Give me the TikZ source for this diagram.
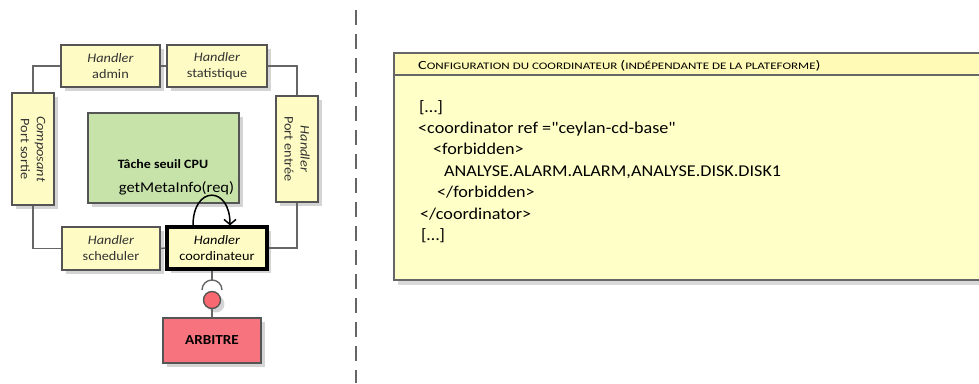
\documentclass[tikz,border=0pt]{standalone}
\usepackage{fontspec}
\setmainfont[FakeStretch=1.1]{Carlito}
\newfontfamily\codefont[FakeStretch=1.1]{Carlito}
\newfontfamily\headfont[FakeStretch=1.3]{Carlito}
\usetikzlibrary{shadows,arrows.meta}
\definecolor{boxyellow}{HTML}{FEFCC4}
\definecolor{noteyellow}{HTML}{FFFFC8}
\definecolor{headyellow}{HTML}{FFFBB6}
\definecolor{taskgreen}{HTML}{C8E3AA}
\definecolor{arbred}{HTML}{F7747E}
\definecolor{bordergray}{HTML}{555555}
\definecolor{linegray}{HTML}{666666}
\definecolor{textgray}{HTML}{333333}
\tikzset{
  shadowed/.style={drop shadow={shadow xshift=4pt, shadow yshift=-4pt, fill=black!17, opacity=1}},
  hbox/.style={draw=bordergray, line width=1.4pt, fill=boxyellow, inner sep=0pt, align=center,
    font=\fontsize{13}{16}\selectfont, text=textgray, shadowed},
  vlabel/.style={rotate=-90, align=center, font=\fontsize{13}{16}\selectfont, text=textgray, inner sep=0pt},
  ring/.style={draw=linegray, line width=1.4pt},
  codeline/.style={anchor=base west, inner sep=0pt, font=\codefont\fontsize{16.5}{20}\selectfont, text=black},
}
\begin{document}
\begin{tikzpicture}[x=1pt,y=-1pt]
\useasboundingbox (0,0) rectangle (979,383);

\node[hbox, minimum width=99pt, minimum height=42pt] (admin) at (110.5,66) {\textit{Handler}\\admin};
\node[hbox, minimum width=100pt, minimum height=42pt] (stat) at (217,66) {\textit{Handler}\\statistique};
\node[hbox, minimum width=42pt, minimum height=112pt] (lport) at (33,149) {};
\node[vlabel] (lportlabel) at (lport.center) {\textit{Composant}\\Port sortie};
\node[hbox, minimum width=42pt, minimum height=106pt] (rport) at (297,149) {};
\node[vlabel] (rportlabel) at (rport.center) {\textit{Handler}\\Port entrée};
\node[hbox, minimum width=98pt, minimum height=43pt] (sched) at (111,248.5) {\textit{Handler}\\scheduler};
\node[hbox, draw=black, line width=3.2pt, text=black, minimum width=100pt, minimum height=42pt] (coord) at (217,248) {\textit{Handler}\\coordinateur};

\draw[ring] (admin.west) -| (lport.north);
\draw[ring] (stat.east) -| (rport.north);
\draw[ring] (lport.south) |- (sched.west);
\draw[ring] (rport.south) |- (coord.east);
\draw[ring] (sched.east) -- (coord.west);
\draw[ring] (admin.east) -- (stat.west);

% task
\node[draw=bordergray, line width=1.4pt, fill=taskgreen, minimum width=151pt, minimum height=90pt, shadowed] (task) at (163.5,158) {};
\node[font=\bfseries\fontsize{12.7}{14}\selectfont, inner sep=0pt] (tasktitle) at (163,164) {Tâche seuil CPU};
\node[font=\fontsize{15}{17}\selectfont, inner sep=0pt] (taskmeth) at (176.5,188) {getMetaInfo(req)};

% self loop
\coordinate (loopa) at ([xshift=-24pt]coord.north);
\coordinate (loopb) at ([xshift=13pt]coord.north);
\draw[line width=1.5pt, -{Straight Barb[length=5pt,width=12pt]}] (loopa) .. controls ([yshift=40pt]loopa) and ([yshift=40pt]loopb) .. (loopb);

% lollipop
\coordinate (lp) at ([xshift=-5pt]coord.south);
\coordinate (sockend) at (212,280);
\draw[ring] (lp) -- (sockend);
\draw[ring] (202,290) arc[start angle=180, end angle=0, radius=10pt];
\node[hbox, minimum width=98pt, minimum height=45pt, fill=arbred, text=black, font=\bfseries\fontsize{13.8}{15}\selectfont] (arb) at (212,340.5) {ARBITRE};
\node[circle, draw=bordergray, line width=1.4pt, fill=arbred!90!red, minimum size=17pt, inner sep=0pt, shadowed] (ball) at (212,300) {};
\draw[ring] (ball.south) -- (arb.north);

% separator
\coordinate (septop) at (356,10);
\coordinate (sepbot) at (356,383);
\draw[linegray, line width=2pt, dash pattern=on 15pt off 9pt] (septop) -- (sepbot);

% note
\fill[black!15] (398,57) rectangle (995,285);
\fill[headyellow] (394,53) rectangle (990,75);
\fill[noteyellow] (394,75) rectangle (990,280);
\draw[linegray, line width=1.4pt] (990,53) -- (394,53) -- (394,280) -- (990,280);
\draw[linegray, line width=1.4pt] (394,75) -- (990,75);
\node[anchor=base west, inner sep=0pt, text=black, font=\headfont] (nhead) at (418,69.5)
  {{\fontsize{12.5}{13}\selectfont C}{\fontsize{10}{13}\selectfont ONFIGURATION DU COORDINATEUR }{\fontsize{12.5}{13}\selectfont (}{\fontsize{10}{13}\selectfont INDÉPENDANTE DE LA PLATEFORME}{\fontsize{12.5}{13}\selectfont )}};
\node[codeline] (c1) at (419,112) {[…]};
\node[codeline] (c2) at (418,133) {<coordinator ref ="ceylan-cd-base"};
\node[codeline] (c3) at (433,154.5) {<forbidden>};
\node[codeline] (c4) at (444,176) {ANALYSE.ALARM.ALARM,ANALYSE.DISK.DISK1};
\node[codeline] (c5) at (437,197.5) {</forbidden>};
\node[codeline] (c6) at (420,219) {</coordinator>};
\node[codeline] (c7) at (421,240.5) {[…]};
\end{tikzpicture}
\end{document}
